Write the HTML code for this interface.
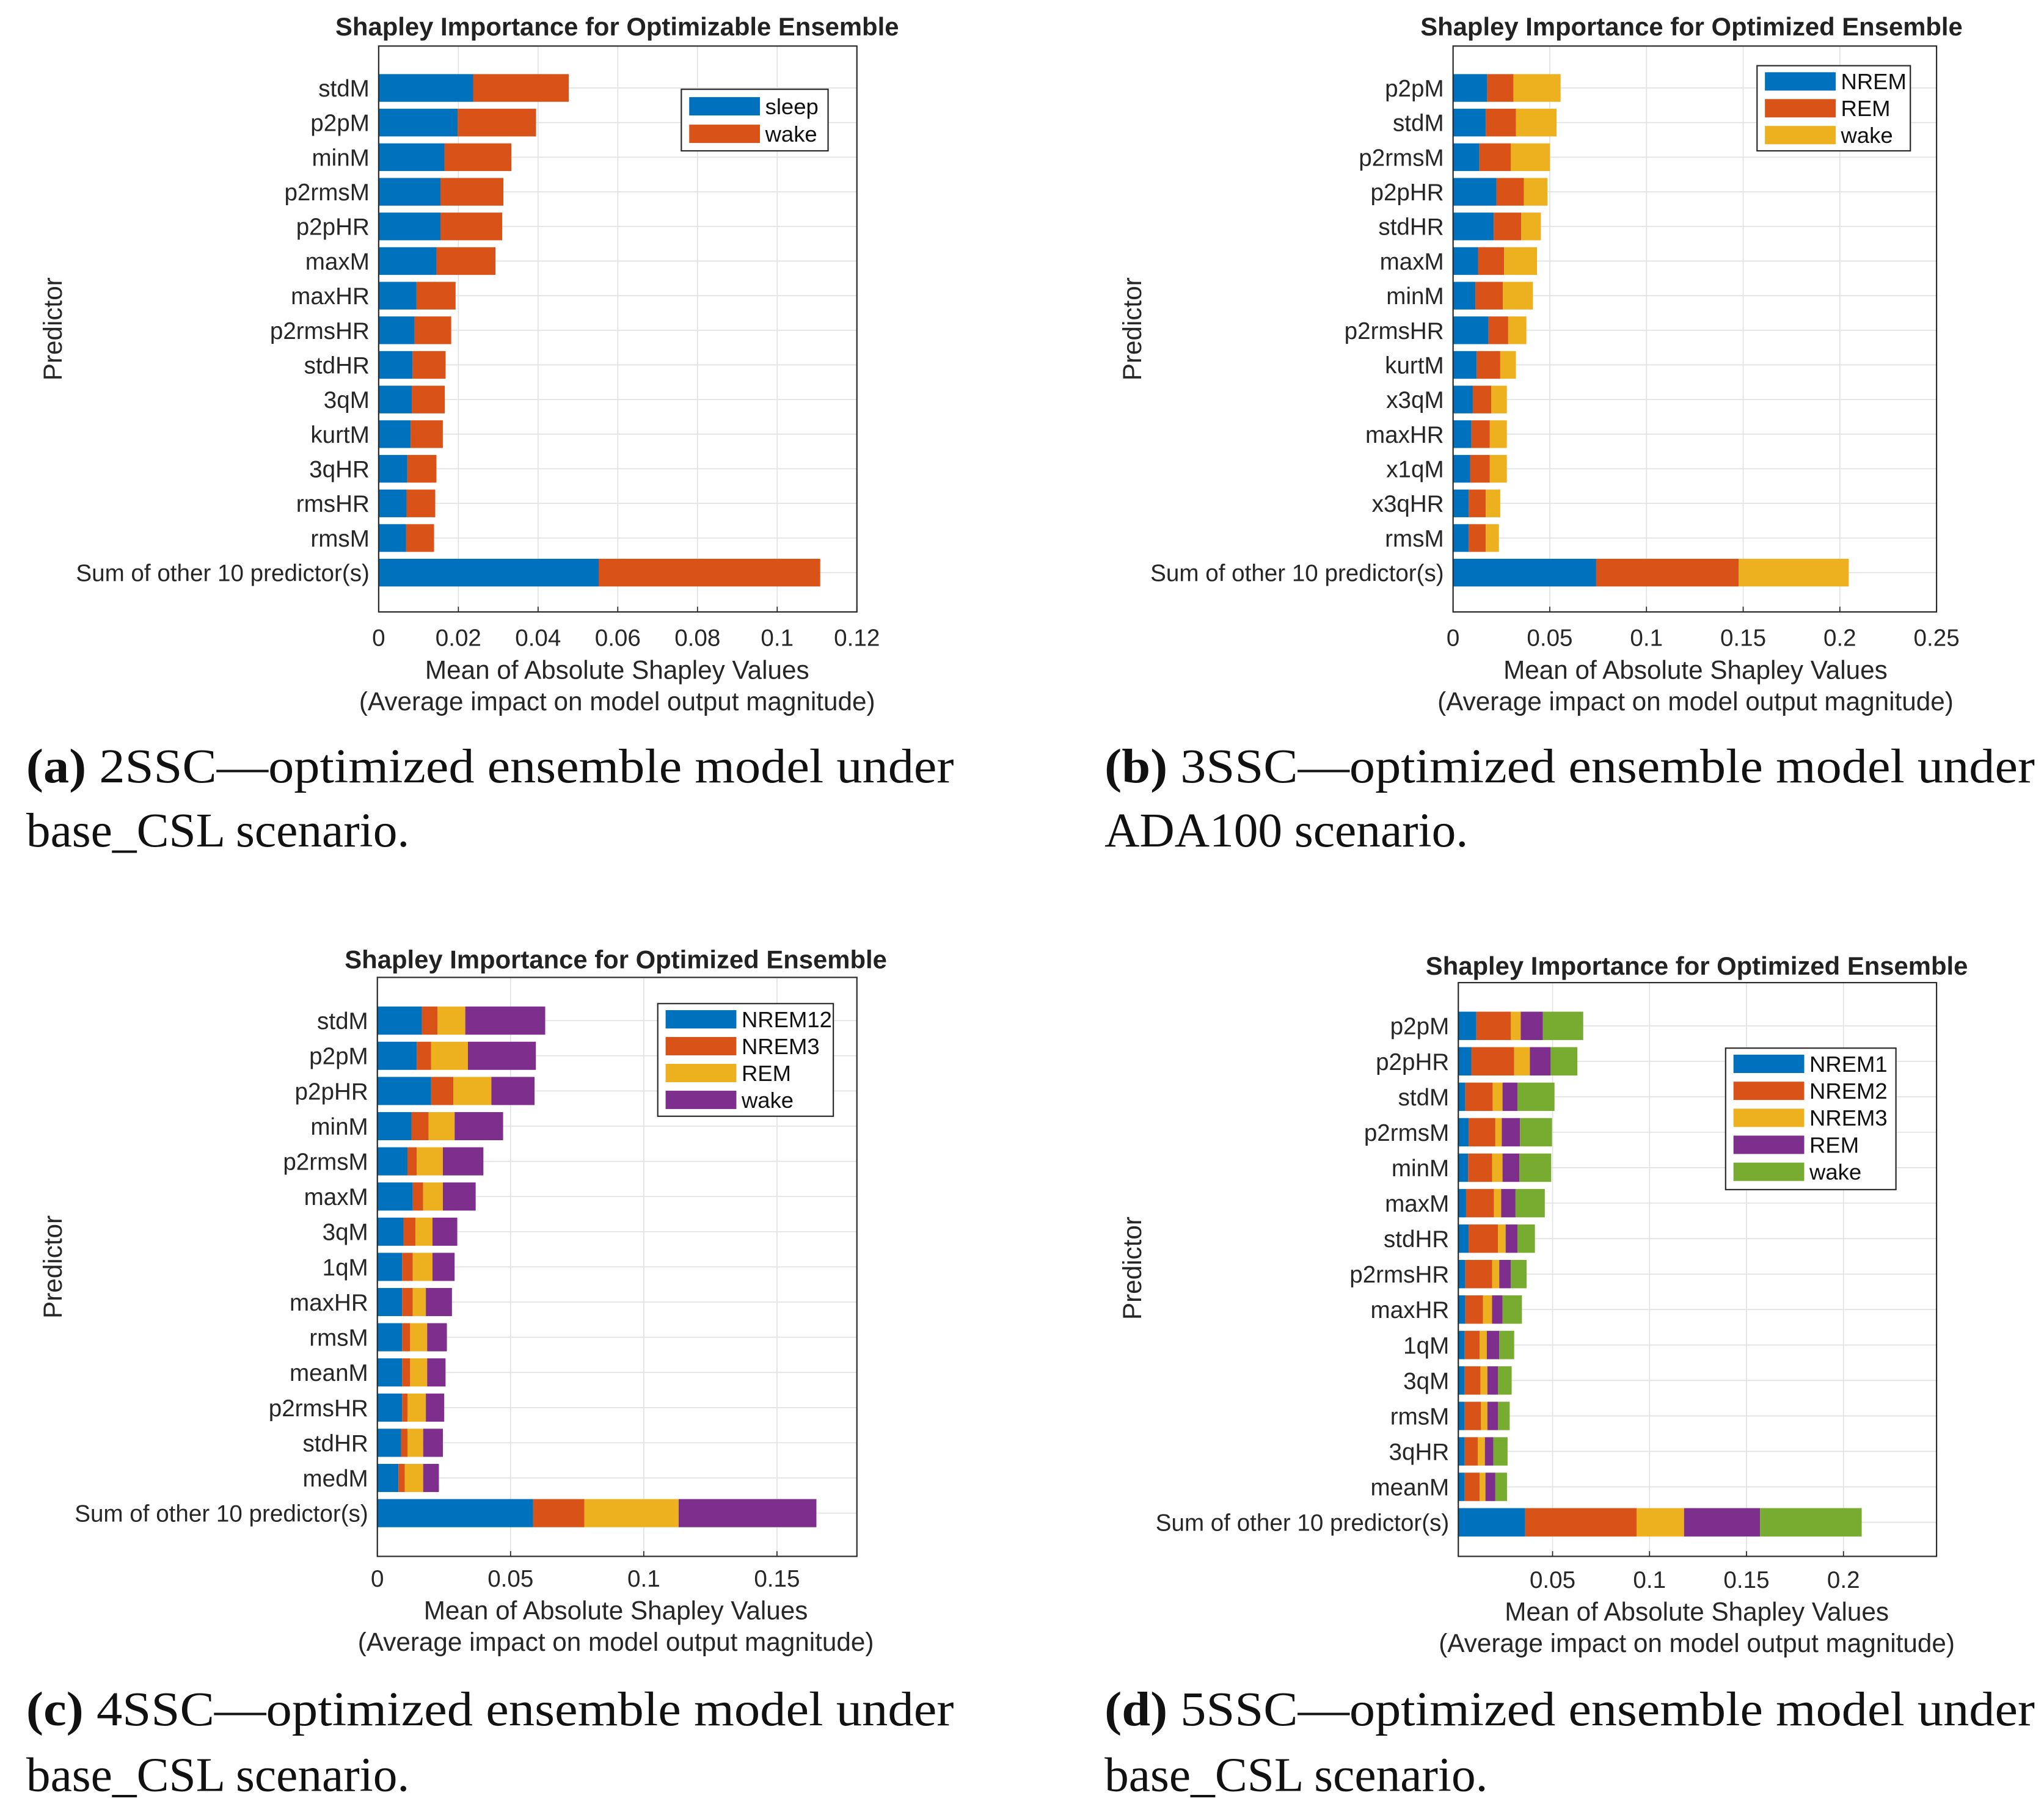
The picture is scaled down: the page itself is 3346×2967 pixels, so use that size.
<!DOCTYPE html>
<html><head><meta charset="utf-8">
<style>
html,body{margin:0;padding:0;background:#fff;}
svg{display:block;}
text{font-family:"Liberation Sans",sans-serif;}
.cap{font-family:"Liberation Serif",serif;font-size:37px;fill:#111;}
</style></head>
<body>
<svg id="fig" xmlns="http://www.w3.org/2000/svg" width="3346" height="2967" viewBox="0 0 1560 1383">
<rect x="0" y="0" width="1560" height="1383" fill="#fff"/>
<text class="cap" x="20" y="597" textLength="708" lengthAdjust="spacingAndGlyphs"><tspan font-weight="bold">(a)</tspan> 2SSC—optimized ensemble model under</text>
<text class="cap" x="20" y="646">base_CSL scenario.</text>
<text class="cap" x="843" y="597" textLength="710" lengthAdjust="spacingAndGlyphs"><tspan font-weight="bold">(b)</tspan> 3SSC—optimized ensemble model under</text>
<text class="cap" x="843" y="646">ADA100 scenario.</text>
<text class="cap" x="20" y="1317" textLength="708" lengthAdjust="spacingAndGlyphs"><tspan font-weight="bold">(c)</tspan> 4SSC—optimized ensemble model under</text>
<text class="cap" x="20" y="1367">base_CSL scenario.</text>
<text class="cap" x="843" y="1317" textLength="710" lengthAdjust="spacingAndGlyphs"><tspan font-weight="bold">(d)</tspan> 5SSC—optimized ensemble model under</text>
<text class="cap" x="843" y="1367">base_CSL scenario.</text>
</svg>
<script>
// ---- Chart A data ----
const catsA = ["stdM","p2pM","minM","p2rmsM","p2pHR","maxM","maxHR","p2rmsHR","stdHR","3qM","kurtM","3qHR","rmsHR","rmsM","Sum of other 10 predictor(s)"];
const seriesNamesA = ["sleep","wake"];
const sleepA = [0.0237,0.0198,0.0165,0.0155,0.0155,0.0145,0.0095,0.0090,0.0085,0.0083,0.0080,0.0072,0.0070,0.0069,0.0552];
const wakeA  = [0.0240,0.0197,0.0168,0.0158,0.0155,0.0148,0.0098,0.0092,0.0083,0.0083,0.0081,0.0073,0.0072,0.0070,0.0556];
const ticksA = [0,0.02,0.04,0.06,0.08,0.1,0.12];
const tickLabelsA = ["0","0.02","0.04","0.06","0.08","0.1","0.12"];

// ---- Chart B data ----
const catsB = ["p2pM","stdM","p2rmsM","p2pHR","stdHR","maxM","minM","p2rmsHR","kurtM","x3qM","maxHR","x1qM","x3qHR","rmsM","Sum of other 10 predictor(s)"];
const seriesNamesB = ["NREM","REM","wake"];
const nremB = [0.0176,0.0169,0.0136,0.0224,0.0210,0.0129,0.0115,0.0183,0.0122,0.0102,0.0095,0.0088,0.0081,0.0081,0.0740];
const remB  = [0.0136,0.0156,0.0162,0.0142,0.0142,0.0135,0.0142,0.0102,0.0122,0.0095,0.0095,0.0102,0.0088,0.0088,0.0737];
const wakeB = [0.0244,0.0210,0.0203,0.0122,0.0102,0.0170,0.0156,0.0094,0.0081,0.0081,0.0088,0.0088,0.0075,0.0068,0.0569];
const ticksB = [0,0.05,0.1,0.15,0.2,0.25];
const tickLabelsB = ["0","0.05","0.1","0.15","0.2","0.25"];

// ---- Chart C data ----
const catsC = ["stdM","p2pM","p2pHR","minM","p2rmsM","maxM","3qM","1qM","maxHR","rmsM","meanM","p2rmsHR","stdHR","medM","Sum of other 10 predictor(s)"];
const seriesNamesC = ["NREM12","NREM3","REM","wake"];
const nrem12C = [0.0167,0.0148,0.0202,0.0128,0.0113,0.0133,0.0098,0.0093,0.0093,0.0093,0.0093,0.0093,0.0089,0.0079,0.0585];
const nrem3C  = [0.0059,0.0054,0.0083,0.0064,0.0035,0.0039,0.0045,0.0040,0.0040,0.0030,0.0030,0.0020,0.0024,0.0024,0.0192];
const remC    = [0.0104,0.0138,0.0143,0.0098,0.0098,0.0074,0.0064,0.0074,0.0049,0.0064,0.0064,0.0069,0.0059,0.0069,0.0354];
const wakeC   = [0.0300,0.0255,0.0162,0.0182,0.0152,0.0123,0.0093,0.0083,0.0098,0.0074,0.0069,0.0069,0.0074,0.0059,0.0517];
const ticksC = [0,0.05,0.1,0.15];
const tickLabelsC = ["0","0.05","0.1","0.15"];

// ---- Chart D data ----
const catsD = ["p2pM","p2pHR","stdM","p2rmsM","minM","maxM","stdHR","p2rmsHR","maxHR","1qM","3qM","rmsM","3qHR","meanM","Sum of other 10 predictor(s)"];
const seriesNamesD = ["NREM1","NREM2","NREM3","REM","wake"];
const nrem1D = [0.0107,0.0081,0.0050,0.0067,0.0064,0.0054,0.0067,0.0050,0.0050,0.0047,0.0047,0.0047,0.0047,0.0047,0.0359];
const nrem2D = [0.0178,0.0221,0.0141,0.0138,0.0124,0.0144,0.0151,0.0138,0.0091,0.0077,0.0081,0.0084,0.0067,0.0077,0.0574];
const nrem3D = [0.0051,0.0081,0.0051,0.0033,0.0054,0.0037,0.0040,0.0037,0.0047,0.0037,0.0036,0.0033,0.0037,0.0030,0.0245];
const remD   = [0.0114,0.0107,0.0077,0.0094,0.0087,0.0074,0.0061,0.0060,0.0054,0.0064,0.0054,0.0054,0.0044,0.0051,0.0392];
const wakeD  = [0.0208,0.0138,0.0191,0.0165,0.0164,0.0151,0.0090,0.0081,0.0100,0.0077,0.0071,0.0061,0.0073,0.0060,0.0524];
const ticksD = [0.05,0.1,0.15,0.2];
const tickLabelsD = ["0.05","0.1","0.15","0.2"];

const COLORS = ["#0072BD","#D95319","#EDB120","#7E2F8E","#77AC30"];
const NS = "http://www.w3.org/2000/svg";
const svg = document.getElementById("fig");

function mk(tag, attrs, parent){
  const e = document.createElementNS(NS, tag);
  for (const k in attrs) e.setAttribute(k, attrs[k]);
  (parent||svg).appendChild(e);
  return e;
}

function drawChart(cfg){
  const g = mk("g", {});
  
  
  const L=cfg.left,R=cfg.right,T=cfg.top,B=cfg.bottom;
  const xs = v => L + (v - cfg.xmin)/(cfg.xmax - cfg.xmin)*(R-L);
  const n = cfg.cats.length;
  const rowY = i => cfg.firstRow + i*(cfg.lastRow - cfg.firstRow)/(n-1);
  const bh = (cfg.lastRow - cfg.firstRow)/(n-1)*0.8;
  cfg.ticks.forEach((t,i)=>{
    const x = xs(t);
    const gl = mk("line",{x1:x,x2:x,y1:T,y2:B,stroke:"#e2e2e2","stroke-width":0.8},g);
    
    
    const tk = mk("line",{x1:x,x2:x,y1:B,y2:B-4,stroke:"#262626","stroke-width":0.8},g);
    
    
    const tl = mk("text",{x:x,y:cfg.tickY,"text-anchor":"middle","font-size":18,fill:"#262626"},g);
    
    
    tl.textContent = cfg.tickLabels[i];
  });
  cfg.cats.forEach((c,i)=>{
    const y = rowY(i);
    const gl = mk("line",{x1:L,x2:R,y1:y,y2:y,stroke:"#e2e2e2","stroke-width":0.8},g);
    
    
    const lb = mk("text",{x:L-7,y:y+6.5,"text-anchor":"end","font-size":18,fill:"#262626"},g);
    
    
    lb.textContent = c;
    let acc = 0;
    cfg.series.forEach((s,k)=>{
      const x0 = xs(Math.max(acc,cfg.xmin)); acc += s[i]; const x1 = xs(acc);
      const r = mk("rect",{x:x0,y:y-bh/2,width:Math.max(0,x1-x0),height:bh,fill:COLORS[k]},g);
      
      
    });
  });
  const box = mk("rect",{x:L,y:T,width:R-L,height:B-T,fill:"none",stroke:"#262626","stroke-width":1},g);
  
  
  const ti = mk("text",{x:cfg.titleX,y:cfg.titleY,"text-anchor":"middle","font-size":19.5,"font-weight":"bold",fill:"#222"},g);
  
  
  ti.textContent = cfg.title;
  const x1 = mk("text",{x:cfg.xlabX,y:cfg.tickY+25,"text-anchor":"middle","font-size":19.7,fill:"#262626"},g);
  
  
  x1.textContent = "Mean of Absolute Shapley Values";
  const x2 = mk("text",{x:cfg.xlabX,y:cfg.tickY+49,"text-anchor":"middle","font-size":19.7,fill:"#262626"},g);
  
  
  x2.textContent = "(Average impact on model output magnitude)";
  const yl = mk("text",{x:0,y:0,"text-anchor":"middle","font-size":19.7,fill:"#262626",transform:`translate(${cfg.ylabX},${cfg.ylabY}) rotate(-90)`},g);
  
  
  yl.textContent = "Predictor";
  const lg = mk("g",{},g);
  
  
  const lb = cfg.legend;
  mk("rect",{x:lb.x,y:lb.y,width:lb.w,height:lb.h,fill:"#fff",stroke:"#262626","stroke-width":1},lg);
  cfg.names.forEach((nm,k)=>{
    const cy = lb.y + lb.first + k*lb.step;
    const sw = mk("rect",{x:lb.x+6,y:cy-7,width:54,height:14,fill:COLORS[k]},lg);
    
    
    const t = mk("text",{x:lb.x+64,y:cy+6,"font-size":17,fill:"#111"},lg);
    
    
    t.textContent = nm;
  });
}

drawChart({id:"chart-a",left:289,right:654,top:35,bottom:467,xmin:0,xmax:0.12,firstRow:67,lastRow:437,
  cats:catsA,series:[sleepA,wakeA],names:seriesNamesA,ticks:ticksA,tickLabels:tickLabelsA,tickY:493,
  title:"Shapley Importance for Optimizable Ensemble",titleX:471,titleY:27,xlabX:471,ylabX:47,ylabY:251,
  legend:{x:520,y:68,w:112,h:47,first:13,step:21}});
drawChart({id:"chart-b",left:1109,right:1478,top:35,bottom:467,xmin:0,xmax:0.25,firstRow:67,lastRow:437,
  cats:catsB,series:[nremB,remB,wakeB],names:seriesNamesB,ticks:ticksB,tickLabels:tickLabelsB,tickY:493,
  title:"Shapley Importance for Optimized Ensemble",titleX:1291,titleY:27,xlabX:1294,ylabX:871,ylabY:251,
  legend:{x:1341,y:50,w:117,h:65,first:12,step:20.5}});
drawChart({id:"chart-c",left:288,right:654,top:746,bottom:1188,xmin:0,xmax:0.18,firstRow:779,lastRow:1155,
  cats:catsC,series:[nrem12C,nrem3C,remC,wakeC],names:seriesNamesC,ticks:ticksC,tickLabels:tickLabelsC,tickY:1211,
  title:"Shapley Importance for Optimized Ensemble",titleX:470,titleY:739,xlabX:470,ylabX:47,ylabY:967,
  legend:{x:502,y:766,w:134,h:86,first:12,step:20.5}});
drawChart({id:"chart-d",left:1113,right:1478,top:750,bottom:1188,xmin:0.0014,xmax:0.248,firstRow:783,lastRow:1162,
  cats:catsD,series:[nrem1D,nrem2D,nrem3D,remD,wakeD],names:seriesNamesD,ticks:ticksD,tickLabels:tickLabelsD,tickY:1212,
  title:"Shapley Importance for Optimized Ensemble",titleX:1295,titleY:744,xlabX:1295,ylabX:871,ylabY:968,
  legend:{x:1317,y:800,w:130,h:108,first:12,step:20.6}});
</script>
</body></html>
